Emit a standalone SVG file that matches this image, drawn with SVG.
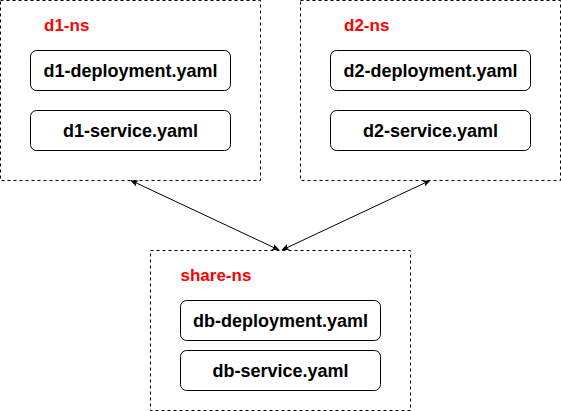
<svg xmlns="http://www.w3.org/2000/svg" width="561" height="411" viewBox="0 0 561 411">
<style>
.ns{fill:#fff;stroke:#000;stroke-width:1;stroke-dasharray:3 3}
.box{fill:#fff;stroke:#000;stroke-width:1}
.lbl{font-family:"Liberation Sans",Arial,sans-serif;font-weight:bold;font-size:18px;fill:#000;text-anchor:middle}
.title{font-family:"Liberation Sans",Arial,sans-serif;font-weight:bold;font-size:17px;fill:#ff0000}
.edge{stroke:#000;stroke-width:1;fill:none}
</style>
<defs>
<marker id="ah" viewBox="0 0 10 10" refX="9" refY="5" markerWidth="8" markerHeight="8" orient="auto-start-reverse" markerUnits="userSpaceOnUse">
<path d="M0,1 L10,5 L0,9 L2.5,5 Z" fill="#000"/>
</marker>
</defs>
<rect width="561" height="411" fill="#fff"/>
<g id="d1-ns">
<rect class="ns" x="0.5" y="0.5" width="260" height="180"/>
<text class="title" x="44" y="31">d1-ns</text>
<g id="d1-deployment"><rect class="box" x="30.5" y="50.5" width="200" height="40" rx="6"/><text class="lbl" x="130.5" y="77">d1-deployment.yaml</text></g>
<g id="d1-service"><rect class="box" x="30.5" y="110.5" width="200" height="40" rx="6"/><text class="lbl" x="130.5" y="137">d1-service.yaml</text></g>
</g>
<g id="d2-ns">
<rect class="ns" x="300.5" y="0.5" width="260" height="180"/>
<text class="title" x="344" y="31">d2-ns</text>
<g id="d2-deployment"><rect class="box" x="330.5" y="50.5" width="200" height="40" rx="6"/><text class="lbl" x="430.5" y="77">d2-deployment.yaml</text></g>
<g id="d2-service"><rect class="box" x="330.5" y="110.5" width="200" height="40" rx="6"/><text class="lbl" x="430.5" y="137">d2-service.yaml</text></g>
</g>
<g id="share-ns">
<rect class="ns" x="150.5" y="250.5" width="260" height="160"/>
<text class="title" x="180.5" y="281">share-ns</text>
<g id="db-deployment"><rect class="box" x="180.5" y="300.5" width="200" height="40" rx="6"/><text class="lbl" x="280.5" y="327">db-deployment.yaml</text></g>
<g id="db-service"><rect class="box" x="180.5" y="350.5" width="200" height="40" rx="6"/><text class="lbl" x="280.5" y="377">db-service.yaml</text></g>
</g>
<g id="connectors">
<line class="edge" x1="131" y1="180.5" x2="279" y2="250" marker-start="url(#ah)" marker-end="url(#ah)"/>
<line class="edge" x1="430" y1="180.5" x2="282" y2="250" marker-start="url(#ah)" marker-end="url(#ah)"/>
</g>
</svg>
